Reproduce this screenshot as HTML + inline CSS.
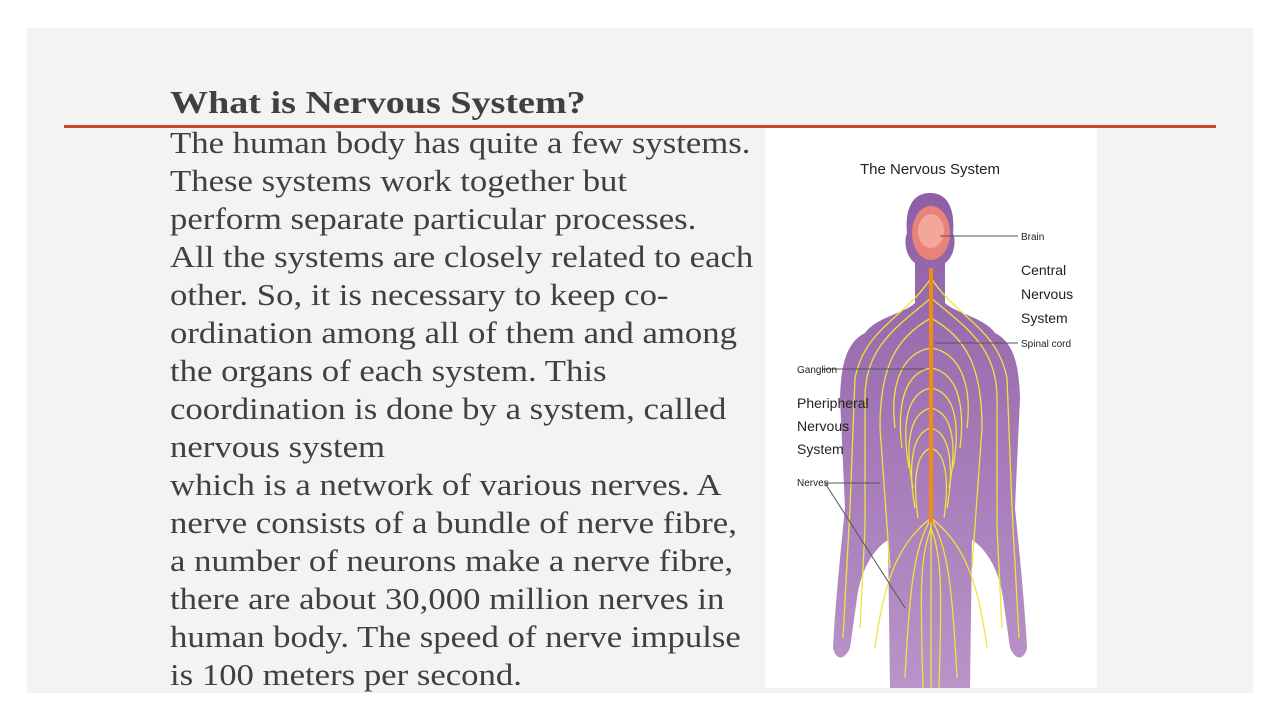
<!DOCTYPE html>
<html><head><meta charset="utf-8"><style>
html,body{margin:0;padding:0;background:#fff;width:1280px;height:720px;overflow:hidden;position:relative;font-family:"Liberation Serif",serif}
.panel{position:absolute;left:27px;top:28px;width:1226px;height:665px;background:#f3f3f3}
.rule{position:absolute;left:64px;top:125px;width:1152px;height:3px;background:#c9472d}
.txt{position:absolute;left:170px;top:124px;color:#404040;font-size:31px;line-height:38px;white-space:nowrap;transform:scaleX(1.12);transform-origin:0 0}
.title{position:absolute;left:170px;top:83px;color:#404040;font-size:32px;font-weight:bold;line-height:38px;white-space:nowrap;transform:scaleX(1.19);transform-origin:0 0}
.img{position:absolute;left:765px;top:128px;width:332px;height:560px;background:#fff}
</style></head><body>
<div class="panel"></div>
<div class="title">What is Nervous System?</div>
<div class="rule"></div>
<div class="txt">The human body has quite a few systems.<br>These systems work together but<br>perform separate particular processes.<br>All the systems are closely related to each<br>other. So, it is necessary to keep co-<br>ordination among all of them and among<br>the organs of each system. This<br>coordination is done by a system, called<br>nervous system<br>which is a network of various nerves. A<br>nerve consists of a bundle of nerve fibre,<br>a number of neurons make a nerve fibre,<br>there are about 30,000 million nerves in<br>human body. The speed of nerve impulse<br>is 100 meters per second.</div>
<div class="img">
<svg width="332" height="560" viewBox="0 0 332 560" font-family="Liberation Sans, sans-serif">
<defs><linearGradient id="g" x1="0" y1="0" x2="0" y2="1"><stop offset="0" stop-color="#8e5ea6"/><stop offset="1" stop-color="#b994c8"/></linearGradient></defs>
<text x="165" y="46" font-size="15" text-anchor="middle" fill="#222">The Nervous System</text>
<path d="M165 65 C145 65 140 85 142 105 C138 115 142 130 150 135 L150 175 C140 185 110 190 100 205 C80 215 76 240 75 270 L80 380 C75 430 70 480 68 520 C70 530 78 535 85 520 L92 470 C96 440 110 420 123 412 L125 560 L205 560 L207 412 C220 420 234 440 238 470 L245 520 C252 535 260 530 262 520 C260 480 255 430 250 380 L255 270 C254 240 250 215 230 205 C220 190 190 185 180 175 L180 135 C188 130 192 115 188 105 C190 85 185 65 165 65Z" fill="url(#g)"/>
<ellipse cx="166" cy="105" rx="19" ry="27" fill="#e9837a"/>
<ellipse cx="166" cy="103" rx="13" ry="17" fill="#f2a79a"/>
<g stroke="#f2e23a" stroke-width="1.3" fill="none">
<path d="M166 150 C140 190 100 200 90 250 L85 380 L78 510"/>
<path d="M166 150 C192 190 232 200 242 250 L247 380 L254 510"/>
<path d="M166 170 C130 200 100 220 100 270 L100 400 L95 500"/>
<path d="M166 170 C202 200 232 220 232 270 L232 400 L237 500"/>
<path d="M166 190 C130 210 115 240 115 300 L125 440"/>
<path d="M166 190 C202 210 217 240 217 300 L207 440"/>
<path d="M166 220 C135 225 125 260 130 300"/><path d="M166 220 C197 225 207 260 202 300"/>
<path d="M166 240 C138 245 132 280 137 320"/><path d="M166 240 C194 245 200 280 195 320"/>
<path d="M166 260 C140 265 137 300 144 340"/><path d="M166 260 C192 265 195 300 188 340"/>
<path d="M166 280 C143 285 140 320 148 360"/><path d="M166 280 C189 285 192 320 184 360"/>
<path d="M166 300 C146 305 143 340 150 380"/><path d="M166 300 C186 305 189 340 182 380"/>
<path d="M166 320 C150 325 148 355 153 390"/><path d="M166 320 C182 325 184 355 179 390"/>
<path d="M166 390 C150 420 145 450 140 550"/><path d="M166 390 C182 420 187 450 192 550"/>
<path d="M166 390 L166 560"/><path d="M166 400 C155 430 155 460 158 560"/><path d="M166 400 C177 430 177 460 174 560"/>
<path d="M166 390 C140 410 120 440 110 520"/><path d="M166 390 C192 410 212 440 222 520"/>
</g>
<rect x="164" y="140" width="4" height="255" fill="#f28a17"/>
<g stroke="#555" stroke-width="1"><line x1="175" y1="108" x2="253" y2="108"/><line x1="170" y1="215" x2="253" y2="215"/><line x1="57" y1="241" x2="160" y2="241"/><line x1="60" y1="355" x2="115" y2="355"/><line x1="60" y1="355" x2="140" y2="480"/></g>
<g fill="#222" font-size="10"><text x="256" y="112">Brain</text><text x="256" y="219">Spinal cord</text><text x="32" y="245">Ganglion</text><text x="32" y="358">Nerves</text></g>
<g fill="#222" font-size="14"><text x="256" y="147">Central</text><text x="256" y="171">Nervous</text><text x="256" y="195">System</text>
<text x="32" y="280">Pheripheral</text><text x="32" y="303">Nervous</text><text x="32" y="326">System</text></g>
</svg></div>
</body></html>
